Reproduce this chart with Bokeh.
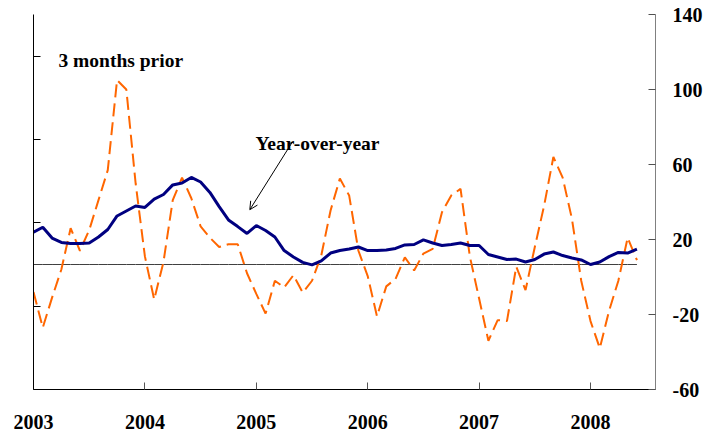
from bokeh.plotting import figure
from bokeh.models import Range1d, LinearAxis, FixedTicker, Label, Arrow, OpenHead
from bokeh.embed import file_html
from bokeh.resources import INLINE

# ---- data (monthly, Jan 2003 .. Jun 2008) ----
year_labels = ["2003", "2004", "2005", "2006", "2007", "2008"]
year_ticks = [0, 12, 24, 36, 48, 60]

yoy = [1.55, 1.79, 1.27, 1.06, 1.01, 1.01, 1.03, 1.32, 1.68, 2.33, 2.57, 2.81,
       2.74, 3.14, 3.36, 3.82, 3.91, 4.18, 3.96, 3.46, 2.78, 2.14, 1.82, 1.49,
       1.87, 1.63, 1.32, 0.67, 0.36, 0.10, -0.02, 0.17, 0.55, 0.67, 0.74, 0.84,
       0.67, 0.67, 0.70, 0.77, 0.94, 0.96, 1.18, 1.03, 0.91, 0.96, 1.03, 0.91,
       0.91, 0.48, 0.36, 0.24, 0.26, 0.12, 0.24, 0.50, 0.60, 0.43, 0.31, 0.22,
       0.00, 0.12, 0.38, 0.58, 0.55, 0.74]

three_months = [-8, -27, -11, 4, 26, 14, 25, 41, 57, 105, 100, 50,
                11, -12, 8, 41, 53, 42, 27, 21, 16, 17.5, 17.5, 2,
                -9, -19.5, -2, -5.6, 1, -8.3, -2, 11.5, 35.5, 52.5, 43.5, 14,
                0.5, -21, -5, -1, 10.5, 3.5, 12.5, 15, 34.5, 43.5, 47, 11,
                -11.5, -34, -23, -23.5, 5.5, -7, 16, 38, 64, 53, 31, -2,
                -23.5, -38, -18, -2, 21, 9]

months = list(range(len(yoy)))
zero_line = [0] * len(yoy)

left_ticks = [-6, -2, 2, 6, 10]
right_ticks = [-60, -20, 20, 60, 100, 140]
right_labels = ["-60", "-20", "20", "60", "100", "140"]

FONT = "Liberation Serif"

p = figure(width=710, height=436,
           x_range=Range1d(0, 67), y_range=Range1d(-6, 12),
           output_backend="svg", toolbar_location=None,
           min_border_left=33, min_border_right=55,
           min_border_top=14, min_border_bottom=47)
p.grid.visible = False
p.outline_line_color = None
p.background_fill_color = "white"
p.border_fill_color = "white"

p.extra_y_ranges = {"r": Range1d(-60, 140)}

# left axis (tick marks only, no labels)
ya = p.yaxis[0]
ya.ticker = FixedTicker(ticks=left_ticks)
ya.major_label_overrides = {t: "" for t in left_ticks}
ya.major_label_standoff = 0
ya.major_tick_in = 7
ya.major_tick_out = 0
ya.minor_tick_line_color = None
ya.axis_line_color = "black"
ya.major_tick_line_color = "black"

# bottom axis
xa = p.xaxis[0]
xa.ticker = FixedTicker(ticks=year_ticks)
xa.major_label_overrides = {t: l for t, l in zip(year_ticks, year_labels)}
xa.major_tick_in = 7
xa.major_tick_out = 0
xa.minor_tick_line_color = None
xa.axis_line_color = "black"
xa.major_tick_line_color = "#555555"
xa.major_label_text_font = FONT
xa.major_label_text_font_style = "bold"
xa.major_label_text_font_size = "20px"
xa.major_label_text_color = "black"
xa.major_label_standoff = 25

# right axis
ra = LinearAxis(y_range_name="r", ticker=FixedTicker(ticks=right_ticks))
ra.major_label_overrides = {t: l for t, l in zip(right_ticks, right_labels)}
ra.major_tick_in = 7
ra.major_tick_out = 0
ra.minor_tick_line_color = None
ra.axis_line_color = "#808080"
ra.major_tick_line_color = "#505050"
ra.major_label_text_font = FONT
ra.major_label_text_font_style = "bold"
ra.major_label_text_font_size = "20px"
ra.major_label_text_color = "black"
ra.major_label_standoff = 17
p.add_layout(ra, "right")

# zero line
p.line(months, zero_line, line_color="#404040", line_width=1)

# series
p.line(months, three_months, y_range_name="r", line_color="#FF6600",
       line_width=2, line_dash="13 6")
p.line(months, yoy, line_color="#000080", line_width=3)

# annotations
p.add_layout(Label(x=2.69, y=9.79, text="3 months prior", text_font=FONT,
                   text_font_style="bold", text_font_size="19.5px",
                   text_baseline="alphabetic", text_align="left",
                   text_color="black"))
p.add_layout(Label(x=23.9, y=5.81, text="Year-over-year", text_font=FONT,
                   text_font_style="bold", text_font_size="19.5px",
                   text_baseline="alphabetic", text_align="left",
                   text_color="black"))
p.add_layout(Arrow(end=OpenHead(size=8, line_width=1, line_color="black"),
                   x_start=27.87, y_start=5.87, x_end=23.3, y_end=2.63,
                   line_width=1, line_color="black"))

open("out.html", "w").write(file_html(p, INLINE))
